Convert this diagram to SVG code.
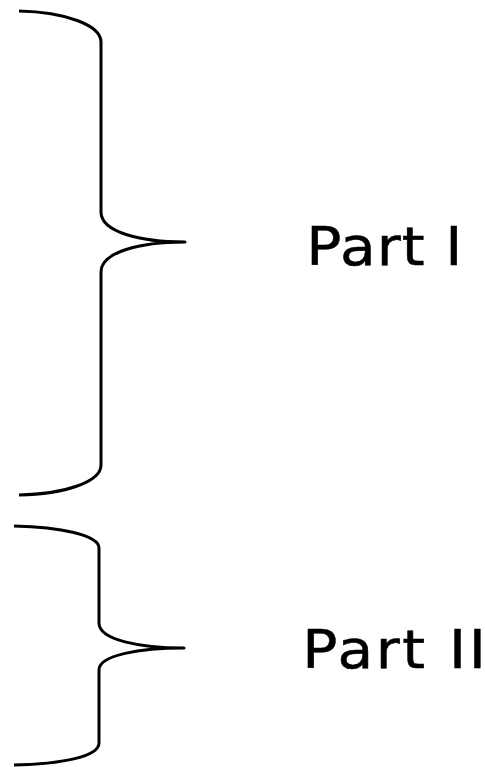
<svg xmlns="http://www.w3.org/2000/svg" width="485" height="767" viewBox="0 0 485 767">
<style>
.brace{fill:none;stroke:#000;stroke-width:3;stroke-linejoin:round}
.lbl{font-family:"DejaVu Sans","Verdana",sans-serif;font-size:53px;fill:#000;stroke:#000;stroke-width:0.5}
</style>
<rect width="485" height="767" fill="#fff"/>
<g id="connectors">
<path class="brace" d="M19,11 C65,12 101,25 101,42 V212 C101,232 140,242 185,242 C140,242 101,252 101,272 V465 C101,482 65,494 19,495"/>
<path class="brace" d="M14,526 C60,527 99,535 99,548 V623 C99,640 140,648 184,648 C140,648 99,655 99,670 V743 C99,757 60,764 14,765"/>
</g>
<g id="part1"><text class="lbl" transform="translate(306.3,265) scale(1.1,1)" textLength="142" lengthAdjust="spacing">Part I</text></g>
<g id="part2"><text class="lbl" transform="translate(302.3,668) scale(1.1,1)" textLength="167" lengthAdjust="spacing">Part II</text></g>
</svg>
